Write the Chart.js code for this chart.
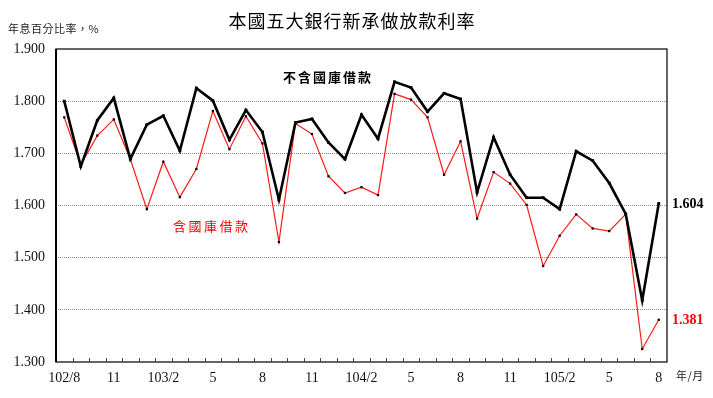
<!DOCTYPE html>
<html lang="zh-TW">
<head>
<meta charset="UTF-8" />
<title>本國五大銀行新承做放款利率</title>
<script src="https://cdn.jsdelivr.net/npm/chart.js@4.4.0/dist/chart.umd.min.js"></script>
<style>
  html, body { margin: 0; padding: 0; background: #fff; }
</style>
</head>
<body>
<canvas id="chart" width="713" height="398"></canvas>
<script>
// 102/8 ~ 105/8, monthly
const months = [
  "102/8", "102/9", "102/10", "102/11", "102/12",
  "103/1", "103/2", "103/3", "103/4", "103/5", "103/6", "103/7", "103/8", "103/9", "103/10", "103/11", "103/12",
  "104/1", "104/2", "104/3", "104/4", "104/5", "104/6", "104/7", "104/8", "104/9", "104/10", "104/11", "104/12",
  "105/1", "105/2", "105/3", "105/4", "105/5", "105/6", "105/7", "105/8",
];
const tickLabels = ["102/8", "11", "103/2", "5", "8", "11", "104/2", "5", "8", "11", "105/2", "5", "8"];
const yTicks = [1.3, 1.4, 1.5, 1.6, 1.7, 1.8, 1.9];

// 不含國庫借款
const exclTreasury = [
  1.800, 1.675, 1.763, 1.806, 1.689, 1.755, 1.772, 1.705, 1.825, 1.801,
  1.726, 1.783, 1.741, 1.611, 1.759, 1.766, 1.721, 1.689, 1.774, 1.728,
  1.837, 1.826, 1.780, 1.815, 1.804, 1.625, 1.731, 1.659, 1.615, 1.615,
  1.593, 1.704, 1.686, 1.643, 1.584, 1.418, 1.604,
];
// 含國庫借款
const inclTreasury = [
  1.769, 1.678, 1.734, 1.765, 1.689, 1.593, 1.684, 1.616, 1.670, 1.781,
  1.708, 1.771, 1.719, 1.530, 1.757, 1.737, 1.656, 1.624, 1.635, 1.620,
  1.814, 1.803, 1.769, 1.659, 1.723, 1.575, 1.664, 1.642, 1.601, 1.484,
  1.542, 1.583, 1.556, 1.551, 1.583, 1.325, 1.381,
];

const CJK = '"Noto Sans CJK TC"';
const SERIF = '"Liberation Serif", "Times New Roman", serif';

// frame, inward ticks and the free text
const decor = {
  id: "decor",
  afterDraw(chart) {
    const { ctx, chartArea: a, scales } = chart;
    const x = scales.x, y = scales.y;
    ctx.save();

    // plot frame
    ctx.strokeStyle = "#000";
    ctx.lineWidth = 1.2;
    ctx.strokeRect(a.left, a.top, a.right - a.left, a.bottom - a.top);
    ctx.lineWidth = 2;
    ctx.beginPath();
    ctx.moveTo(a.left, a.top);
    ctx.lineTo(a.left, a.bottom);
    ctx.stroke();

    // small ticks between months, pointing up
    ctx.lineWidth = 1;
    ctx.strokeStyle = "#444";
    ctx.beginPath();
    for (let i = 1; i < months.length; i++) {
      const px = Math.round((x.getPixelForValue(i - 1) + x.getPixelForValue(i)) / 2) + 0.5;
      ctx.moveTo(px, a.bottom);
      ctx.lineTo(px, a.bottom - 4);
    }
    ctx.stroke();

    // title and axis captions
    ctx.fillStyle = "#000";
    ctx.textBaseline = "middle";
    ctx.textAlign = "center";
    ctx.font = "18px " + CJK;
    ctx.letterSpacing = "1px";
    ctx.fillText("本國五大銀行新承做放款利率", 352, 21);

    ctx.textAlign = "left";
    ctx.font = "11px " + CJK;
    ctx.letterSpacing = "0.5px";
    ctx.fillStyle = "#222";
    ctx.fillText("年息百分比率，%", 8, 29);
    ctx.fillText("年/月", 676, 376);

    // series names
    ctx.font = "bold 13px " + CJK;
    ctx.letterSpacing = "2px";
    ctx.fillStyle = "#000";
    ctx.fillText("不含國庫借款", 283, 77);
    ctx.font = "13px " + CJK;
    ctx.letterSpacing = "2.5px";
    ctx.fillStyle = "#ff0000";
    ctx.fillText("含國庫借款", 173, 226);

    // latest values
    ctx.letterSpacing = "0px";
    ctx.font = "bold 14px " + SERIF;
    const lastB = exclTreasury[exclTreasury.length - 1];
    const lastR = inclTreasury[inclTreasury.length - 1];
    ctx.fillStyle = "#000";
    ctx.fillText(lastB.toFixed(3), 672, y.getPixelForValue(lastB) + 1);
    ctx.fillStyle = "#ff0000";
    ctx.fillText(lastR.toFixed(3), 672, y.getPixelForValue(lastR) + 1);

    ctx.restore();
  },
};

new Chart(document.getElementById("chart"), {
  type: "line",
  data: {
    labels: months,
    datasets: [
      {
        label: "不含國庫借款",
        data: exclTreasury,
        borderColor: "#000",
        borderWidth: 2.6,
        pointStyle: "rect",
        pointRadius: 2,
        pointBackgroundColor: "#000",
        pointBorderWidth: 0,
        tension: 0,
      },
      {
        label: "含國庫借款",
        data: inclTreasury,
        borderColor: "#ff1a1a",
        borderWidth: 1.2,
        pointStyle: "rect",
        pointRadius: 1.6,
        pointBackgroundColor: "#000",
        pointBorderWidth: 0,
        tension: 0,
      },
    ],
  },
  options: {
    responsive: false,
    animation: false,
    devicePixelRatio: 1,
    layout: { padding: { top: 49, right: 46, bottom: 0, left: 0 } },
    plugins: {
      legend: { display: false },
      tooltip: { enabled: false },
    },
    scales: {
      x: {
        offset: true,
        afterFit: (s) => { s.height = 36; },
        grid: { display: false, drawTicks: false },
        border: { display: false },
        ticks: {
          autoSkip: false,
          maxRotation: 0,
          padding: 8,
          color: "#111",
          font: { family: SERIF, size: 14 },
          callback: (v, i) => (i % 3 === 0 ? tickLabels[i / 3] : ""),
        },
      },
      y: {
        min: 1.3,
        max: 1.9,
        afterFit: (s) => { s.width = 56; },
        afterBuildTicks: (s) => { s.ticks = yTicks.map((v) => ({ value: v })); },
        border: { display: false, dash: [1, 1] },
        grid: {
          drawTicks: false,
          lineWidth: 1,
          color: (c) => (c.tick && (c.tick.value <= 1.3 || c.tick.value >= 1.9) ? "rgba(0,0,0,0)" : "#8a8a8a"),
        },
        ticks: {
          padding: 11,
          color: "#111",
          font: { family: SERIF, size: 14 },
          callback: (v) => Number(v).toFixed(3),
        },
      },
    },
  },
  plugins: [decor],
});
</script>
</body>
</html>
